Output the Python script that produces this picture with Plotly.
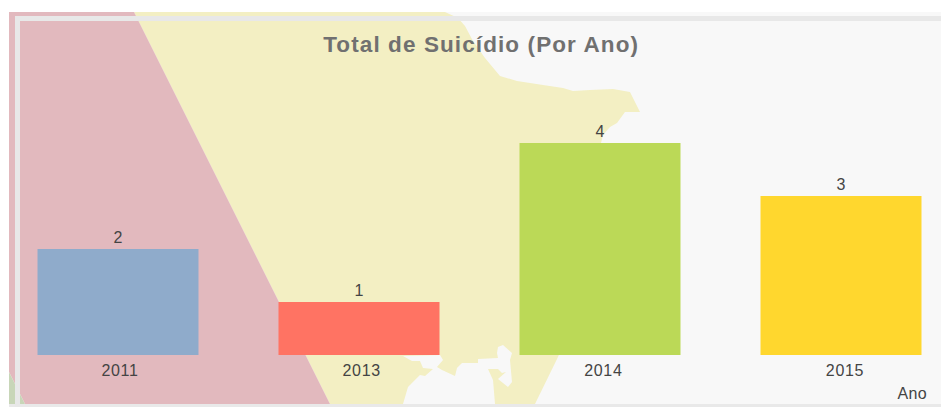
import plotly.graph_objects as go

W, H = 941, 407

# Data
years = ["2011", "2013", "2014", "2015"]
totals = [2, 1, 4, 3]
bar_colors = ["#8fabcb", "#ff7363", "#bbd957", "#ffd72e"]
title_text = "Total de Suicídio (Por Ano)"
axis_name = "Ano"

# Decorative backdrop outlines (pixel space of the picture)
yellow_outline = [(134, 12), (445, 12), (458, 18), (465, 26), (473, 41), (485, 58), (500, 76), (517, 81),
                  (543, 85), (563, 88), (573, 91), (590, 90), (613, 89), (630, 92), (640, 112), (625, 112),
                  (617, 123), (610, 127), (603, 135), (601, 143), (590, 250), (565, 340), (558, 357), (535, 404),
                  (495, 404), (493, 380), (488, 369), (498, 369), (502, 373), (506, 372), (498, 379), (508, 387),
                  (512, 382), (510, 360), (512, 353), (503, 345), (498, 347), (497, 353), (498, 358), (478, 359),
                  (478, 363), (462, 363), (457, 368), (455, 376), (442, 370), (437, 367), (443, 360), (440, 355),
                  (403, 356), (412, 361), (420, 361), (423, 368), (433, 369), (425, 376), (420, 375), (408, 387),
                  (403, 404), (330, 404)]
pink_outline = [(9, 12), (134, 12), (330, 404), (25, 404), (9, 372)]
green_outline = [(9, 372), (25, 404), (9, 404)]


def px_path(pts):
    return "M" + " L".join(f"{x / W:.5f},{1 - y / H:.5f}" for x, y in pts) + " Z"


def px_rect(x0, y0, x1, y1, color):
    return dict(type="rect", xref="paper", yref="paper", layer="below", line_width=0, fillcolor=color,
                x0=x0 / W, x1=x1 / W, y0=1 - y1 / H, y1=1 - y0 / H)


def px_poly(pts, color):
    return dict(type="path", xref="paper", yref="paper", layer="below", line_width=0, fillcolor=color,
                path=px_path(pts))


shapes = [
    px_rect(9, 12, 941, 407, "#f8f8f8"),
    px_poly(yellow_outline, "#f3efc3"),
    px_poly(pink_outline, "#e2b9be"),
    px_poly(green_outline, "#c8d6b8"),
    px_rect(9, 404, 941, 407, "#e9e9e9"),
    px_rect(15, 16, 941, 21, "#e8e8e8"),
    px_rect(15, 16, 20, 407, "#e8e8e8"),
]

# In the picture the year labels drift slightly to the right of their bars
STEP = 241.67
BAR_W = 161 / STEP
offsets = [-BAR_W / 2 - (2 + 0.67 * i) / STEP for i in range(len(years))]

fig = go.Figure(go.Bar(
    x=years, y=totals, marker=dict(color=bar_colors, line_width=0),
    width=BAR_W, offset=offsets,
    text=totals, textposition="outside", cliponaxis=False,
    textfont=dict(family="Liberation Sans", size=16, color="#444444"),
    hoverinfo="skip",
))

fig.add_annotation(text=title_text, xref="paper", yref="paper", x=481 / W, y=1 - 44 / H, showarrow=False,
                   xanchor="center", yanchor="middle",
                   font=dict(family="Liberation Sans", size=22.5, color="#707070", weight="bold"))
fig.add_annotation(text=axis_name, xref="paper", yref="paper", x=929 / W, y=1 - 393 / H, showarrow=False,
                   xanchor="right", yanchor="middle",
                   font=dict(family="Liberation Sans", size=16, color="#444444"))

fig.update_layout(
    width=W, height=H, margin=dict(l=0, r=0, t=0, b=0), autosize=False,
    paper_bgcolor="#ffffff", plot_bgcolor="rgba(0,0,0,0)",
    showlegend=False, shapes=shapes,
    xaxis=dict(domain=[19 / W, 1], type="category", categoryorder="array", categoryarray=years,
               range=[(19 - 120) / STEP, (941 - 120) / STEP], showgrid=False, zeroline=False, showline=False,
               ticks="outside", ticklen=1, tickcolor="rgba(0,0,0,0)", tickangle=0,
               tickfont=dict(family="Liberation Sans", size=16, color="#444444")),
    yaxis=dict(domain=[(H - 355) / H, (H - 55) / H], range=[0, 300 / 53], visible=False),
)

css = (".xtick text{letter-spacing:.7px}"
       ".annotation[data-index='0'] .annotation-text{letter-spacing:1.1px}"
       ".annotation[data-index='1'] .annotation-text{letter-spacing:.4px}")
post = ("document.body.style.margin='0';document.body.style.overflow='hidden';"
        "var s=document.createElement('style');s.textContent=\"" + css + "\";document.head.appendChild(s);")
fig.write_html("out.html", post_script=post, config={"displayModeBar": False})
